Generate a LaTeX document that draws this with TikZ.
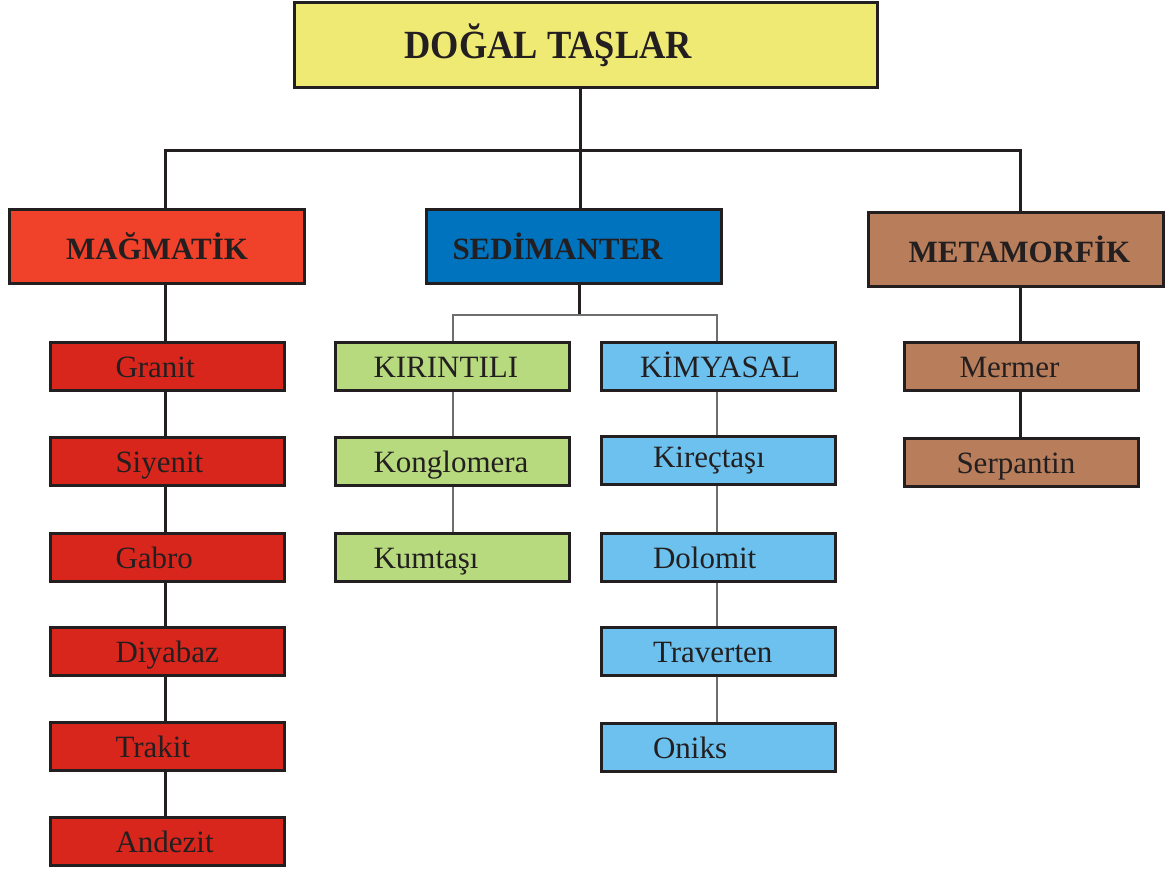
\documentclass[tikz,border=0pt]{standalone}
\usepackage{fontspec}
\setmainfont{Liberation Serif}
\definecolor{cyel}{HTML}{EFEA73}
\definecolor{cmag}{HTML}{F0412A}
\definecolor{csed}{HTML}{0073BF}
\definecolor{cmet}{HTML}{B87D5A}
\definecolor{cred}{HTML}{D9261C}
\definecolor{cgrn}{HTML}{B7DA7E}
\definecolor{cblu}{HTML}{6CC1EE}
\definecolor{cline}{HTML}{231F20}
\definecolor{cgray}{HTML}{6E6E6E}
% left-placed text inside a fixed-width box: #1 box width, #2 offset, #3 text
\newcommand\placetxt[3]{\makebox[#1][l]{\hspace*{#2}#3}}
\newcommand\ctxt[2]{\placetxt{234pt}{#1}{#2}}
\begin{document}
\begin{tikzpicture}[x=1pt,y=-1pt,
  box/.style={draw=cline,line width=3pt,inner sep=0pt,text=cline},
  head/.style={box,minimum width=295pt,minimum height=74pt,font=\fontsize{31}{34}\selectfont\bfseries},
  child/.style={box,minimum width=234pt,minimum height=48pt,text height=22pt,text depth=0pt,font=\fontsize{31}{34}\selectfont},
  conn/.style={draw=cline,line width=3pt},
  thin/.style={draw=cgray,line width=2pt}]
\useasboundingbox (0,0) rectangle (1169,872);
% top
\node[box,fill=cyel,minimum width=583pt,minimum height=85pt,font=\fontsize{40}{44}\selectfont\bfseries] (top) at (586,45)
  {\raisebox{-4pt}{\placetxt{583pt}{110pt}{\scalebox{0.91}[1]{DOĞAL TAŞLAR}}}};
% headers
\node[head,fill=cmag] (mag) at (157,246.5) {\raisebox{-4pt}{MAĞMATİK}};
\node[head,fill=csed] (sed) at (574,246.5) {\raisebox{-4pt}{\placetxt{295pt}{26pt}{SEDİMANTER}}};
\node[head,fill=cmet] (met) at (1015.5,249.5) {\raisebox{-3pt}{\hspace*{8pt}METAMORFİK}};
% red children
\node[child,fill=cred] (r1) at (167.5,366.5) {\ctxt{65pt}{Granit}};
\node[child,fill=cred] (r2) at (167.5,461.5) {\ctxt{65pt}{Siyenit}};
\node[child,fill=cred] (r3) at (167.5,557.5) {\ctxt{65pt}{Gabro}};
\node[child,fill=cred] (r4) at (167.5,651.5) {\ctxt{65pt}{Diyabaz}};
\node[child,fill=cred] (r5) at (167.5,746.5) {\ctxt{65pt}{Trakit}};
\node[child,fill=cred] (r6) at (167.5,841.5) {\ctxt{65pt}{Andezit}};
% green
\node[child,fill=cgrn] (g1) at (452.5,366.5) {\ctxt{38pt}{KIRINTILI}};
\node[child,fill=cgrn] (g2) at (452.5,461.5) {\ctxt{38pt}{Konglomera}};
\node[child,fill=cgrn] (g3) at (452.5,557.5) {\ctxt{38pt}{Kumtaşı}};
% blue
\node[child,fill=cblu] (b1) at (718,366.5) {\ctxt{39pt}{KİMYASAL}};
\node[child,fill=cblu] (b2) at (718,460.5) {\raisebox{4pt}{\ctxt{52pt}{Kireçtaşı}}};
\node[child,fill=cblu] (b3) at (718,557) {\ctxt{52pt}{Dolomit}};
\node[child,fill=cblu] (b4) at (718,651) {\ctxt{52pt}{Traverten}};
\node[child,fill=cblu] (b5) at (718,747) {\ctxt{52pt}{Oniks}};
% brown
\node[child,fill=cmet] (m1) at (1021.5,366.5) {\ctxt{55pt}{Mermer}};
\node[child,fill=cmet] (m2) at (1021.5,462) {\ctxt{52pt}{Serpantin}};
% coordinates for line x positions
\coordinate (xt) at (580,150);
\coordinate (xr) at (165,150);
\coordinate (xm) at (1020,150);
\coordinate (xs) at (579,315);
\coordinate (xg) at (453,315);
\coordinate (xb) at (717,315);
% connectors
\draw[conn] (top.south -| xt) -- (xt);
\draw[conn] (mag.north -| xr) -- (xr) -- (xm) -- (met.north -| xm);
\draw[conn] (xt) -- (sed.north -| xt);
\draw[conn] (sed.south -| xs) -- (xs);
\draw[thin] (g1.north -| xg) -- (xg) -- (xb) -- (b1.north -| xb);
\draw[conn] (mag.south -| xr) -- (r1.north -| xr);
\foreach \a/\b in {r1/r2,r2/r3,r3/r4,r4/r5,r5/r6}{\draw[conn] (\a.south -| xr) -- (\b.north -| xr);}
\foreach \a/\b in {g1/g2,g2/g3}{\draw[thin] (\a.south -| xg) -- (\b.north -| xg);}
\foreach \a/\b in {b1/b2,b2/b3,b3/b4,b4/b5}{\draw[thin] (\a.south -| xb) -- (\b.north -| xb);}
\draw[conn] (met.south -| xm) -- (m1.north -| xm);
\draw[conn] (m1.south -| xm) -- (m2.north -| xm);
\end{tikzpicture}
\end{document}
